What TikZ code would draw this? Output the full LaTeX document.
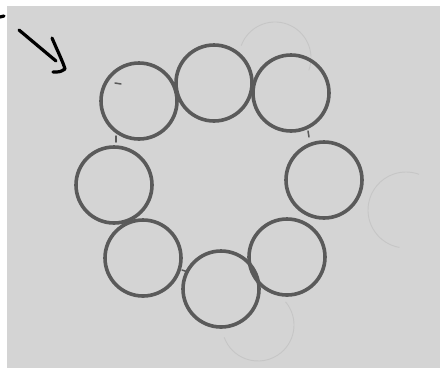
\documentclass[tikz,border=0pt]{standalone}
\usetikzlibrary{calc}
\definecolor{paper}{RGB}{212,212,212}
\definecolor{ink}{RGB}{90,90,90}
\definecolor{faint}{RGB}{198,198,198}
\tikzset{
  ring/.style={circle, draw=ink, line width=3.6pt, minimum size=76pt, inner sep=0pt},
  ghost/.style={faint, line width=0.9pt},
  pen/.style={black, line width=3.2pt, line cap=round, line join=round},
  tick/.style={ink, line width=1.5pt, line cap=round}
}
\begin{document}
\begin{tikzpicture}[x=1pt,y=-1pt]
\useasboundingbox (0,0) rectangle (443,376);
\fill[white] (0,0) rectangle (443,376);
\fill[paper] (7,6) rectangle (440,368);
% faint background circles (partial arcs)
\draw[ghost] (275,58) ++(200:36) arc[start angle=200, end angle=380, radius=36];
\draw[ghost] (406,210) ++(100:38) arc[start angle=100, end angle=290, radius=38];
\draw[ghost] (258,325) ++(-40:36) arc[start angle=-40, end angle=160, radius=36];
% ring of circles
\node[ring] (c1) at (139,101) {};
\node[ring] (c2) at (214,83) {};
\node[ring] (c3) at (291,93) {};
\node[ring] (c4) at (324,180) {};
\node[ring] (c5) at (287,257) {};
\node[ring] (c6) at (221,289) {};
\node[ring] (c7) at (143,258) {};
\node[ring] (c8) at (114,185) {};
% small ticks
\draw[tick] (116,136) -- (116,142);
\draw[tick] (308,131) -- (309,137);
\draw[tick] (115,83) -- (121,84);
\draw[tick] (182,270) -- (188,272);
% arrow and mark
\coordinate (a0) at (19,30);
\coordinate (a1) at (56,61);
\draw[pen] (a0) -- (a1);
\draw[pen] (52,38) .. controls (58,52) and (63,62) .. (65,69) .. controls (60,72) .. (53,72);
\draw[pen] (0,17) -- (4,16);
\end{tikzpicture}
\end{document}
